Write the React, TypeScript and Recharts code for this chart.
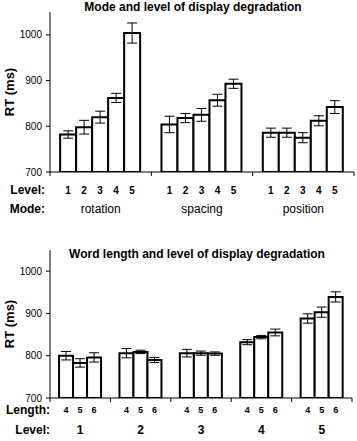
import React from "react";
import { BarChart, Bar, XAxis, YAxis, ErrorBar, LabelList } from "recharts";

// top panel: mode x level
const modes = ["rotation", "spacing", "position"];
const levels = ["1", "2", "3", "4", "5"];
const rotationRT = [782, 798, 820, 862, 1004];
const rotationSE = [8, 15, 13, 10, 22];
const spacingRT = [804, 818, 825, 857, 893];
const spacingSE = [18, 10, 14, 13, 10];
const positionRT = [786, 786, 775, 812, 842];
const positionSE = [10, 10, 11, 11, 14];

// bottom panel: word length x level
const wordLevels = ["1", "2", "3", "4", "5"];
const lengths = ["4", "5", "6"];
const len4RT = [800, 806, 806, 832, 888];
const len4SE = [10, 11, 9, 6, 11];
const len5RT = [783, 809, 806, 844, 903];
const len5SE = [10, 4, 5, 4, 12];
const len6RT = [796, 790, 805, 855, 939];
const len6SE = [11, 6, 4, 8, 12];

const yTicks = [700, 800, 900, 1000];
const FONT = "'Liberation Sans', Arial, sans-serif";

const modeRows = [rotationRT, spacingRT, positionRT];
const modeErrs = [rotationSE, spacingSE, positionSE];
const topData = modes.map((m, i) => {
  const row: Record<string, any> = { name: m };
  levels.forEach((l, j) => {
    row["v" + l] = modeRows[i][j];
    row["e" + l] = modeErrs[i][j];
  });
  return row;
});

const lenRows = [len4RT, len5RT, len6RT];
const lenErrs = [len4SE, len5SE, len6SE];
const bottomData = wordLevels.map((lv, i) => {
  const row: Record<string, any> = { name: lv };
  lengths.forEach((l, j) => {
    row["v" + l] = lenRows[j][i];
    row["e" + l] = lenErrs[j][i];
  });
  return row;
});

const TOP_W = 357, TOP_H = 222;
const TOP_M = { top: 12, right: 3, left: 0, bottom: 0 };
const BOT_W = 357, BOT_H = 219;
const BOT_M = { top: 28, right: 5, left: 0, bottom: 0 };
const AXIS_W = 50;

const topStep = (TOP_W - TOP_M.left - TOP_M.right - AXIS_W) / modes.length;
const botStep = (BOT_W - BOT_M.left - BOT_M.right - AXIS_W) / wordLevels.length;

function groupTick(step: number, count: number, nameDy: number, nameSize: number, nameBold: boolean,
  rowLabels: [string, number][], labelX: number) {
  return (props: any) => {
    const { x, y, payload, index } = props;
    const half = step / 2;
    return (
      <g>
        <line x1={x - half} x2={x - half} y1={y} y2={y + 4} stroke="#000" />
        {index === count - 1 && <line x1={x + half} x2={x + half} y1={y} y2={y + 4} stroke="#000" />}
        <text x={x} y={y + nameDy} textAnchor="middle" fontSize={nameSize}
          fontWeight={nameBold ? "bold" : "normal"} fill="#000" fontFamily={FONT}>
          {payload.value}
        </text>
        {index === 0 &&
          rowLabels.map(([t, dy]) => (
            <text key={t} x={labelX} y={y + dy} textAnchor="end" fontSize={12}
              fontWeight="bold" fill="#000" fontFamily={FONT}>
              {t}
            </text>
          ))}
      </g>
    );
  };
}

const seriesLabel = (text: string, dy: number, size: number) => (p: any) => (
  <text x={p.x + p.width / 2} y={p.y + p.height + dy} textAnchor="middle"
    fontSize={size} fontWeight="bold" fill="#000" fontFamily={FONT}>
    {text}
  </text>
);

const yAxisProps = {
  width: AXIS_W,
  domain: [700, 1050] as [number, number],
  ticks: yTicks,
  tickSize: 4,
  tickMargin: 4,
  stroke: "#000",
  tick: { fontSize: 10, fill: "#000", fontFamily: FONT },
  allowDataOverflow: true,
};

const rtLabel = (top: number) => (
  <div style={{ position: "absolute", left: 9, top, transform: "translate(-50%,-50%) rotate(-90deg)",
    fontFamily: FONT, fontWeight: "bold", fontSize: 13, whiteSpace: "nowrap" }}>
    RT (ms)
  </div>
);

const title = (text: string, cx: number, top: number) => (
  <div style={{ position: "absolute", left: cx - 150, width: 300, top, textAlign: "center",
    fontFamily: FONT, fontWeight: "bold", fontSize: 12, whiteSpace: "nowrap" }}>
    {text}
  </div>
);

export default function App() {
  return (
    <div style={{ position: "absolute", left: 0, top: 0, width: 357, height: 441, background: "#fff" }}>
      <div style={{ position: "absolute", left: 0, top: 0 }}>
        <BarChart width={TOP_W} height={TOP_H} data={topData} margin={TOP_M}
          barCategoryGap="10%" barGap={0}>
          <XAxis dataKey="name" height={50} stroke="#000" tickSize={0} tickMargin={0}
            interval={0}
            tick={groupTick(topStep, modes.length, 41, 12, false, [["Level:", 22], ["Mode:", 41]], 45)} />
          <YAxis {...yAxisProps} />
          {levels.map((l) => (
            <Bar key={l} dataKey={"v" + l} fill="#fff" stroke="#000" strokeWidth={2}
              isAnimationActive={false}>
              <ErrorBar dataKey={"e" + l} width={5} stroke="#000" strokeWidth={1} />
              <LabelList content={seriesLabel(l, 22, 10)} />
            </Bar>
          ))}
        </BarChart>
      </div>
      {title("Mode and level of display degradation", 193, 0)}
      {rtLabel(92)}

      <div style={{ position: "absolute", left: 0, top: 222 }}>
        <BarChart width={BOT_W} height={BOT_H} data={bottomData} margin={BOT_M}
          barCategoryGap="15%" barGap={0}>
          <XAxis dataKey="name" height={43} stroke="#000" tickSize={0} tickMargin={0}
            interval={0}
            tick={groupTick(botStep, wordLevels.length, 36, 12, true, [["Length:", 16], ["Level:", 36]], 50)} />
          <YAxis {...yAxisProps} />
          {lengths.map((l) => (
            <Bar key={l} dataKey={"v" + l} fill="#fff" stroke="#000" strokeWidth={2}
              isAnimationActive={false}>
              <ErrorBar dataKey={"e" + l} width={5} stroke="#000" strokeWidth={1} />
              <LabelList content={seriesLabel(l, 15, 9)} />
            </Bar>
          ))}
        </BarChart>
      </div>
      {title("Word length and level of display degradation", 197, 247)}
      {rtLabel(324)}
    </div>
  );
}
